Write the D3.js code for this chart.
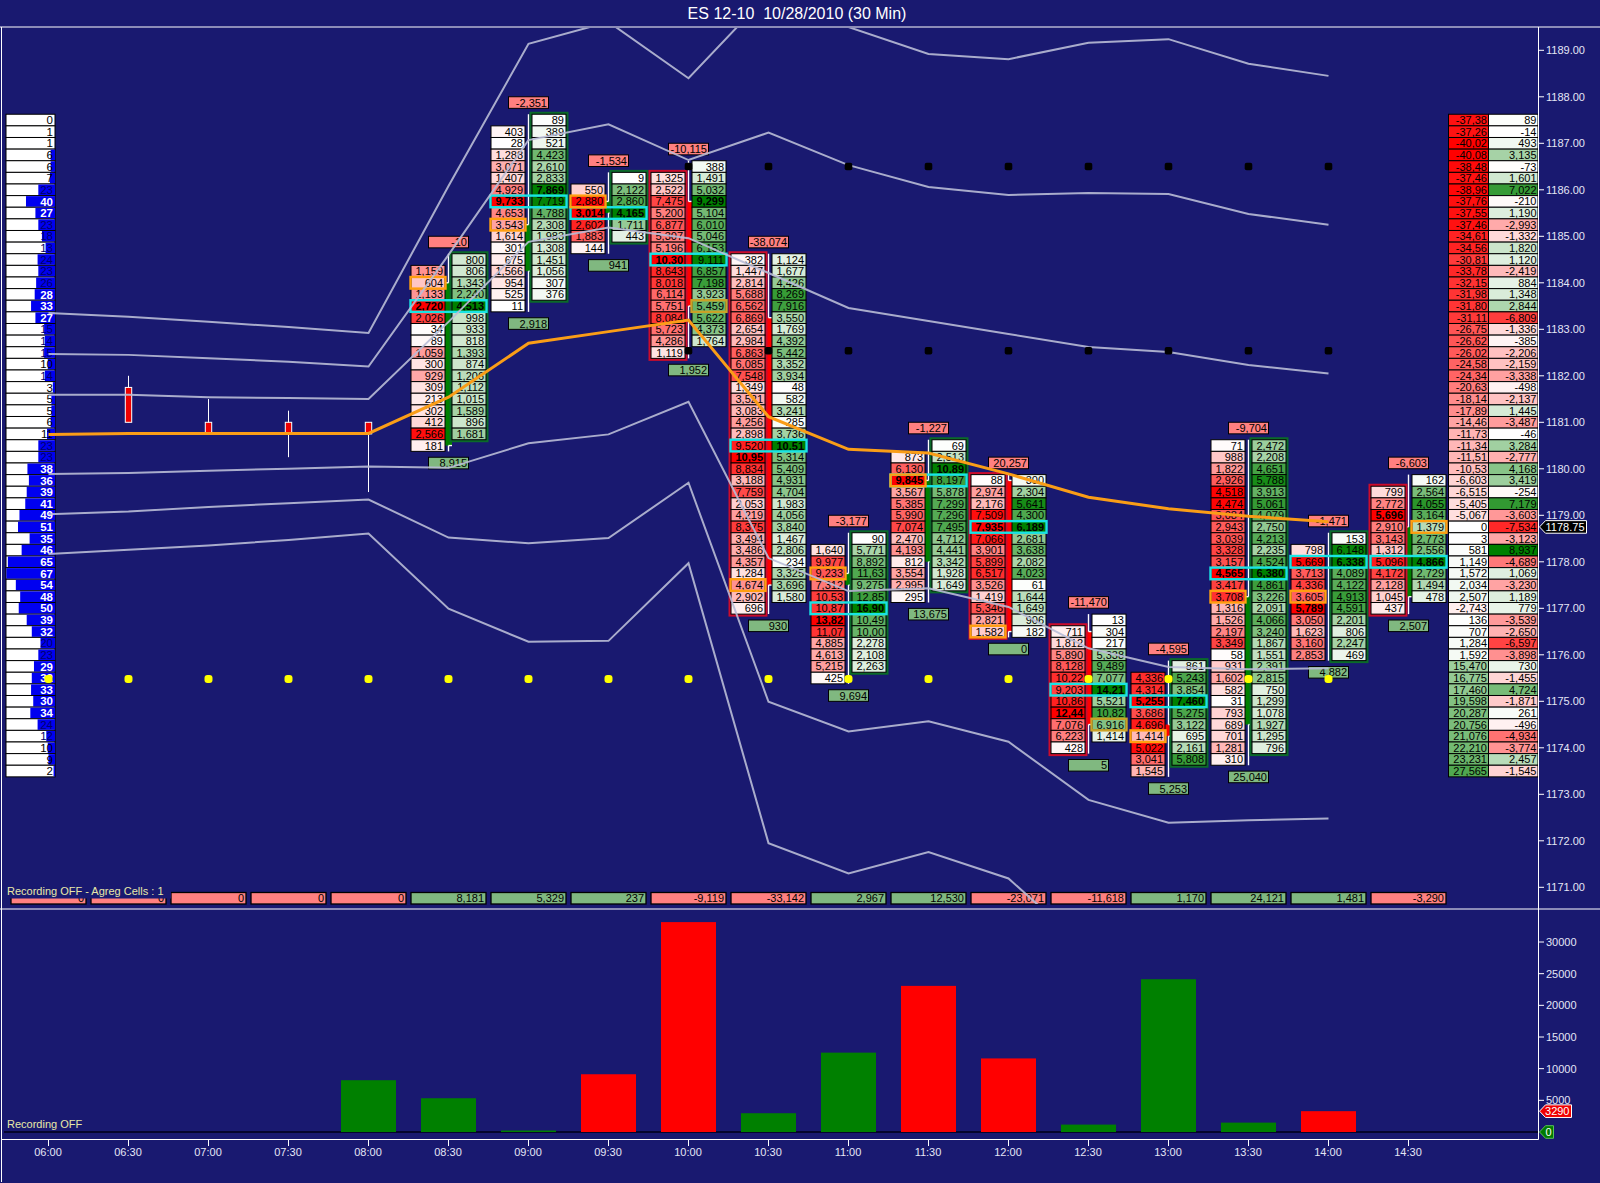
<!DOCTYPE html>
<html><head><meta charset="utf-8">
<style>html,body{margin:0;padding:0;background:#191970}svg{display:block}text{font-family:"Liberation Sans",Arial,sans-serif}</style>
<script src="https://cdnjs.cloudflare.com/ajax/libs/d3/7.8.5/d3.min.js"></script>
</head><body><svg id="c" width="1600" height="1183"></svg>
<script>
const title = "ES 12-10  10/28/2010 (30 Min)";
const timeLabels = ["06:00","06:30","07:00","07:30","08:00","08:30","09:00","09:30","10:00","10:30","11:00","11:30","12:00","12:30","13:00","13:30","14:00","14:30"];
const priceTicks = [1171,1172,1173,1174,1175,1176,1177,1178,1179,1180,1181,1182,1183,1184,1185,1186,1187,1188,1189];
const deltaTicks = [5000,10000,15000,20000,25000,30000];
const summaryDelta = [0,0,0,0,0,8181,5329,237,-9119,-33142,2967,12530,-23071,-11618,1170,24121,1481,-3290];

const profileTop = 1187.5;
const volumeProfile = [0,1,1,6,6,7,23,40,27,23,18,13,24,23,26,28,33,27,15,14,15,10,14,3,5,5,6,11,23,23,38,36,39,41,49,51,35,46,65,67,54,48,50,39,32,20,23,29,32,33,30,34,24,12,10,9,2];
const cumDelta = ["-37,38","-37,26","-40,02","-40,08","-38,48","-37,46","-38,96","-37,76","-37,55","-37,46","-34,61","-34,56","-30,81","-33,78","-32,15","-31,98","-31,80","-31,11","-26,75","-26,62","-26,02","-24,58","-24,34","-20,63","-18,14","-17,89","-14,46","-11,73","-11,34","-11,51","-10,53","-6,603","-6,515","-5,405","-5,067","0","3","581","1,149","1,572","2,034","2,507","-2,743","136","707","1,284","1,592","15,470","16,775","17,460","19,598","20,287","20,756","21,076","22,210","23,231","27,565"];
const priceDelta = ["89","-14","493","3,135","-73","1,601","7,022","-210","1,190","-2,993","-1,332","1,820","1,120","-2,419","884","1,348","2,844","-6,809","-1,336","-385","-2,206","-2,159","-3,338","-498","-2,137","1,445","-3,487","-46","3,284","-2,777","4,168","3,419","-254","7,179","-3,603","-7,534","-3,123","8,937","-4,689","1,069","-3,230","1,189","779","-3,539","-2,650","-6,597","-3,898","730","-1,455","4,724","-1,871","261","-496","-4,934","-3,774","2,457","-1,545"];

const vwap = [1180.74,1180.76,1180.76,1180.76,1180.76,1181.54,1182.70,1182.95,1183.20,1181.12,1180.42,1180.34,1179.89,1179.39,1179.14,1178.98,1178.86];
const bandU3 = [1183.35,1183.27,1183.16,1183.05,1182.92,1186.08,1189.14,1189.61,1188.40,1190.21,1189.50,1188.92,1188.81,1189.16,1189.24,1188.71,1188.45];
const bandU2 = [1182.47,1182.45,1182.38,1182.30,1182.20,1184.60,1187.07,1187.41,1186.64,1187.23,1186.53,1186.06,1185.89,1185.93,1185.91,1185.48,1185.25];
const bandU1 = [1181.59,1181.59,1181.54,1181.52,1181.50,1183.16,1184.88,1185.19,1184.96,1184.21,1183.46,1183.18,1182.90,1182.62,1182.51,1182.23,1182.05];
const bandL1 = [1179.89,1179.91,1179.96,1180.00,1180.05,1180.02,1180.55,1180.74,1181.44,1178.08,1177.37,1177.43,1177.03,1176.14,1175.74,1175.69,1175.71];
const bandL2 = [1179.02,1179.08,1179.18,1179.26,1179.34,1178.52,1178.40,1178.51,1179.70,1174.99,1174.35,1174.57,1174.13,1172.88,1172.39,1172.44,1172.48];
const bandL3 = [1178.17,1178.26,1178.35,1178.47,1178.61,1176.99,1176.28,1176.30,1177.97,1171.95,1171.30,1171.76,1171.19,1169.65];

const yellowLevel = 1175.48, yellowBars = d3.range(0,17);
const blackLevels = [1186.5,1182.54], blackBars = d3.range(8,17);

const smallBars = [1,2,3,4];
const smallOpen = [1181,1180.75,1180.75,1180.75];
const smallClose = [1181.75,1181,1181,1181];
const smallHigh = [1182,1181.5,1181.25,1181];
const smallLow = [1181,1180.75,1180.25,1179.5];

const fpBars = [5,6,7,8,9,10,11,12,13,14,15,16,17];
const bidTop = [1184.25,1187.25,1186,1186.25,1184.5,1178.25,1180.25,1179.75,1176.5,1175.5,1180.5,1178.25,1179.5];
const askTop = [1184.5,1187.5,1186.25,1186.5,1184.5,1178.5,1180.5,1179.75,1176.75,1175.75,1180.5,1178.5,1179.75];
const bids = [
["1,159","604","1,133","2,720","2,026","34","89","1,059","300","929","309","213","302","412","2,566","181"],
["403","28","1,288","3,071","1,407","4,929","9,733","4,653","3,543","1,614","301","675","1,566","954","525","11"],
["550","2,880","3,014","2,602","1,883","144"],
["1,325","2,522","7,475","5,200","6,877","5,307","5,196","10,30","8,643","8,018","6,114","5,751","8,084","5,723","4,286","1,119"],
["382","1,447","2,814","5,688","6,562","6,869","2,654","2,984","6,863","6,085","7,548","1,349","3,521","3,083","4,256","2,898","9,520","10,95","8,834","3,188","7,759","2,053","4,219","8,375","3,494","3,486","4,357","1,284","4,674","2,902","696"],
["1,640","9,977","9,233","7,312","10,53","10,87","13,82","11,07","4,885","4,613","5,215","425"],
["873","6,130","9,845","3,567","5,385","5,990","7,074","2,470","4,193","812","3,554","2,995","295"],
["88","2,974","2,176","7,509","7,935","7,066","3,901","5,899","6,517","3,526","1,419","5,346","2,821","1,582"],
["711","1,812","5,890","8,128","10,22","9,203","10,86","12,44","7,076","6,223","428"],
["4,336","4,314","5,255","3,686","4,696","1,414","5,022","3,041","1,545"],
["71","988","1,822","2,926","4,518","4,474","3,084","2,943","3,039","3,328","3,157","4,565","3,417","3,708","1,316","1,526","2,197","3,349","58","931","1,602","582","31","793","689","701","1,281","310"],
["798","5,669","3,713","4,336","3,605","5,789","3,050","1,623","3,160","2,853"],
["799","2,772","5,696","2,910","3,143","1,312","5,096","4,172","2,128","1,045","437"]];
const asks = [
["800","806","1,343","2,240","4,513","998","933","818","1,393","874","1,206","1,112","1,015","1,589","896","1,681"],
["89","389","521","4,423","2,610","2,833","7,869","7,719","4,788","2,308","1,983","1,308","1,451","1,056","307","376"],
["9","2,122","2,860","4,165","1,711","443"],
["388","1,491","5,032","9,299","5,104","6,010","5,046","6,153","9,111","6,857","7,198","3,923","5,459","5,622","4,373","1,764"],
["1,124","1,677","4,426","8,269","7,916","3,550","1,769","4,392","5,442","3,352","3,934","48","582","3,241","285","3,736","10,51","5,314","5,409","4,931","4,704","1,983","4,056","3,840","1,467","2,806","234","3,325","3,696","1,580"],
["90","5,771","8,892","11,63","9,275","12,85","16,90","10,49","10,00","2,278","2,108","2,263"],
["69","2,513","10,89","8,197","5,878","7,299","7,296","7,495","4,712","4,441","3,342","1,928","1,649"],
["300","2,304","5,641","4,300","6,189","2,681","3,638","2,082","4,023","61","1,644","1,649","906","182"],
["13","304","217","5,338","9,489","7,077","14,21","5,521","10,82","6,916","1,414"],
["861","5,243","3,854","7,460","5,275","3,122","695","2,161","5,808"],
["2,472","2,208","4,651","5,788","3,913","5,061","4,079","2,750","4,213","2,235","4,524","6,380","4,861","3,226","2,091","4,066","3,240","1,867","1,551","2,391","2,815","750","1,299","1,078","1,927","1,295","796"],
["153","6,148","6,338","4,089","4,122","4,913","4,591","2,201","806","2,247","469"],
["162","2,564","4,055","3,164","1,379","2,773","2,556","4,866","2,729","1,494","478"]];
const fpOpen  = [1180.5,1184.25,1185.5,1185.75,1183.25,1177.5,1178,1179.75,1176.5,1174.5,1174.5,1177.25,1177.25];
const fpClose = [1184,1185.25,1185.75,1183.5,1177.5,1177.75,1179.75,1176.5,1174.5,1174.25,1177.25,1177.25,1178.75];
const fpHigh  = [1184.5,1187.5,1186.25,1186.5,1184.5,1178.5,1180.5,1179.75,1176.75,1175.75,1180.5,1178.5,1179.75];
const fpLow   = [1180.5,1183.5,1184.75,1182.5,1177,1175.5,1177.25,1176.5,1174,1173.5,1173.75,1176,1177];
const boxSide = ["a","a","a","b","b","a","a","b","b","a","a","a","b"];
const pocRow  = [3,6,2,7,16,5,2,4,5,2,11,1,6];
const markRow = [1,8,1,12,28,2,2,13,9,5,13,4,4];
const markSide= ["b","b","b","a","b","b","b","b","a","b","b","b","a"];
const topDelta = ["-10","-2,351","-1,534","-10,115","-38,074","-3,177","-1,227","20,257","-11,470","-4,595","-9,704","-1,471","-6,603"];
const bottomDelta = ["8,915","2,918","941","1,952","930","9,694","13,675","0","5","5,253","25,040","4,882","2,507"];

const svg = d3.select("#c");
const navy="#191970", RED="#ff8080", GRN="#80b880";
const x = d3.scaleLinear().domain([0,17]).range([48.5,1408.5]);
const y = d3.scaleLinear().domain([1187,1174]).range([143.3,747.8]);
const yD = d3.scaleLinear().domain([0,30000]).range([1132,942]);
const rowH = Math.abs(y(0.25)-y(0));
const num = s => { const neg=s[0]==="-"; const t=s.replace("-",""); const p=t.split(",");
  let v = p.length>1 ? +p[0]*1000 + +p[1].padEnd(3,"0") : +t; return neg?-v:v; };
const whiteRed = d3.scaleLinear().domain([0,1]).range(["#ffffff","#ff0000"]).clamp(true);
const whiteGrn = d3.scaleLinear().domain([0,1]).range(["#ffffff","#008000"]).clamp(true);
const txt = (g,xx,yy,s,o={}) => g.append("text").attr("x",xx).attr("y",yy).attr("dy",".36em")
  .attr("text-anchor",o.a||"end").attr("font-size",o.fs||11).attr("font-weight",o.b?"bold":"normal")
  .attr("fill",o.f||"#000").text(s);

svg.append("rect").attr("width",1600).attr("height",1183).attr("fill",navy);
svg.append("text").attr("x",797).attr("y",13).attr("dy",".36em").attr("text-anchor","middle").attr("font-size",16).attr("fill","#fff").style("white-space","pre").text(title);

// Left volume profile
const gP = svg.append("g");
const blueW = d3.scaleLinear().domain([0,67]).range([0,48.6]);
volumeProfile.forEach((v,k)=>{
  const yy=y(profileTop-k*0.25);
  gP.append("rect").attr("x",6).attr("y",yy-rowH/2).attr("width",49).attr("height",rowH).attr("fill","#fff").attr("stroke","#000");
  if(v>1) gP.append("rect").attr("x",55-blueW(v)).attr("y",yy-rowH/2+.5).attr("width",blueW(v)).attr("height",rowH-1).attr("fill","#0000f0");
  const w=v>=27;
  txt(gP,53,yy,v,{f:w?"#fff":(v>=12?"#00006a":"#000"),b:w,fs:11.5});
});
// Right cumulative columns
const gR = svg.append("g");
const maxC = d3.max(cumDelta,s=>Math.abs(num(s))), maxD=d3.max(priceDelta,s=>Math.abs(num(s)));
const signCol=(v,m)=> v<0?whiteRed(-v/m):whiteGrn(v/m);
cumDelta.forEach((s,k)=>{
  const yy=y(profileTop-k*0.25);
  gR.append("rect").attr("x",1448.5).attr("y",yy-rowH/2).attr("width",40).attr("height",rowH).attr("fill",signCol(num(s),maxC)).attr("stroke","#000");
  txt(gR,1487,yy,s);
  const d=priceDelta[k];
  gR.append("rect").attr("x",1488.5).attr("y",yy-rowH/2).attr("width",49.5).attr("height",rowH).attr("fill",signCol(num(d),maxD)).attr("stroke","#000");
  txt(gR,1536.5,yy,d);
});
// Small candles
const gF = svg.append("g");
smallBars.forEach((b,k)=>{
  const xx=x(b);
  gF.append("line").attr("x1",xx).attr("x2",xx).attr("y1",y(smallHigh[k])).attr("y2",y(smallLow[k])).attr("stroke","#fff");
  gF.append("rect").attr("x",xx-3.2).attr("y",y(smallClose[k])).attr("width",6.4).attr("height",y(smallOpen[k])-y(smallClose[k])).attr("fill","#ee0000").attr("stroke","#fff");
});
// Footprint bars
fpBars.forEach((b,k)=>{
  const xx=x(b), L=xx-37.5, R=xx+3.5, W=34;
  const bv=bids[k].map(num), av=asks[k].map(num), mb=d3.max(bv), ma=d3.max(av);
  const up=fpClose[k]>fpOpen[k], doji=fpClose[k]===fpOpen[k], hi=Math.max(fpOpen[k],fpClose[k]), lo=Math.min(fpOpen[k],fpClose[k]);
  const top=y(hi), bot=y(lo);
  const bodyCol = doji?null:(b===14||!up?"#ff0000":"#008000");
  // wick
  gF.append("line").attr("x1",xx).attr("x2",xx).attr("y1",y(fpHigh[k])-rowH/2).attr("y2",y(fpLow[k])+rowH/2).attr("stroke","#fff").attr("stroke-width",1.4);
  if(bodyCol){
    gF.append("rect").attr("x",xx-3.5).attr("y",top).attr("width",7).attr("height",bot-top).attr("fill",bodyCol);
    gF.append("line").attr("x1",up?xx-3.5:xx).attr("x2",up?xx:xx+3.5).attr("y1",top).attr("y2",top).attr("stroke","#fff").attr("stroke-width",1.4);
    gF.append("line").attr("x1",xx).attr("x2",xx+3.5).attr("y1",bot).attr("y2",bot).attr("stroke","#fff").attr("stroke-width",1.4);
  }
  // outer box
  const side=boxSide[k]==="a"?{x:R,t:askTop[k],n:av.length,c:"#0b6a2a"}:{x:L,t:bidTop[k],n:bv.length,c:"#cc0c2c"};
  gF.append("rect").attr("x",side.x-1).attr("y",y(side.t)-rowH/2-1).attr("width",W+2).attr("height",side.n*rowH+2).attr("fill","none").attr("stroke",side.c).attr("stroke-width",3);
  // cells
  bv.forEach((v,j)=>{ const yy=y(bidTop[k]-j*.25);
    gF.append("rect").attr("x",L).attr("y",yy-rowH/2).attr("width",W).attr("height",rowH).attr("fill",whiteRed(v/mb)).attr("stroke","#000");
    txt(gF,L+W-2,yy,bids[k][j],{b:v===mb}); });
  av.forEach((v,j)=>{ const yy=y(askTop[k]-j*.25);
    gF.append("rect").attr("x",R).attr("y",yy-rowH/2).attr("width",W).attr("height",rowH).attr("fill",whiteGrn(v/ma)).attr("stroke","#000");
    txt(gF,R+W-2,yy,asks[k][j],{b:v===ma}); });
  // POC band and imbalance mark
  const py=y(bidTop[k]-pocRow[k]*.25);
  gF.append("rect").attr("x",xx-38).attr("y",py-rowH/2).attr("width",76).attr("height",rowH).attr("fill","none").attr("stroke","#19e4e4").attr("stroke-width",2.4);
  const mTop=markSide[k]==="a"?askTop[k]:bidTop[k], my=y(mTop-markRow[k]*.25), mx=markSide[k]==="a"?R:L;
  gF.append("rect").attr("x",mx-.5).attr("y",my-rowH/2).attr("width",W+1).attr("height",rowH).attr("fill","none").attr("stroke",(b===8||b===13)?"#c9a227":"#ff9f10").attr("stroke-width",2.4);
  // delta labels
  [[topDelta[k],y(fpHigh[k])-17.5,RED],[bottomDelta[k],y(fpLow[k])+17.5,GRN]].forEach(([s,ly,c])=>{
    gF.append("rect").attr("x",xx-20).attr("y",ly-5.8).attr("width",40).attr("height",11.6).attr("fill",c).attr("stroke","#000");
    txt(gF,xx+18.5,ly,s);
  });
});
// Summary row
const gS = svg.append("g");
const commas = d3.format(",");
summaryDelta.forEach((v,i)=>{
  gS.append("rect").attr("x",x(i)-37.5).attr("y",892.5).attr("width",75).attr("height",11.5).attr("fill",v<0||i<5?RED:GRN).attr("stroke","#000").attr("stroke-width",1.3);
  txt(gS,x(i)+35.5,898.5,commas(v).replace("\u2212","-"));
});
gS.append("rect").attr("x",3).attr("y",886).attr("width",168).attr("height",12.5).attr("fill",navy);
txt(gS,7,891.5,"Recording OFF - Agreg Cells : 1",{a:"start",f:"#e8e8a8"});

// Bands and VWAP
const clip=svg.append("clipPath").attr("id","plot").append("rect").attr("x",2).attr("y",28).attr("width",1535).attr("height",876);
const lineG=svg.append("g").attr("clip-path","url(#plot)");
const ln=d3.line().x((d,i)=>x(i)).y(d=>y(d));
[bandU3,bandU2,bandU1,bandL1,bandL2,bandL3].forEach(b=>lineG.append("path").attr("d",ln(b)).attr("fill","none").attr("stroke","#b9bdd6").attr("stroke-width",2).attr("opacity",.9));
lineG.append("path").attr("d",ln(vwap)).attr("fill","none").attr("stroke","#fa9d17").attr("stroke-width",3);
// Level markers
yellowBars.forEach(i=>lineG.append("rect").attr("x",x(i)-4).attr("y",y(yellowLevel)-4).attr("width",8).attr("height",8).attr("rx",3).attr("fill","#ffff00"));
blackLevels.forEach(l=>blackBars.forEach(i=>lineG.append("rect").attr("x",x(i)-3.8).attr("y",y(l)-3.8).attr("width",7.6).attr("height",7.6).attr("rx",2).attr("fill","#000")));

// Lower panel bars (values sit one slot left of the summary row)
const gB=svg.append("g");
gB.append("rect").attr("x",4).attr("y",1131).attr("width",1534).attr("height",2).attr("fill","#05052e");
summaryDelta.forEach((v,i)=>{ if(i<5||v===0) return;
  gB.append("rect").attr("x",x(i-1)-27.5).attr("width",55).attr("y",yD(Math.abs(v))).attr("height",yD(0)-yD(Math.abs(v))).attr("fill",v<0?"#ff0000":"#008000");
});
txt(gB,7,1124,"Recording OFF",{a:"start",f:"#e8e8a8"});

// Frames and axes
const W="#ffffff", fr=svg.append("g");
[[0,27,1600,27],[0,909,1600,909],[1.5,27,1.5,1182],[1538.5,27,1538.5,1139.5],[2,1139.5,1538.5,1139.5]].forEach(a=>fr.append("line").attr("x1",a[0]).attr("y1",a[1]).attr("x2",a[2]).attr("y2",a[3]).attr("stroke",W));
const LAB="#e4e6f6";
priceTicks.forEach(p=>{
  fr.append("line").attr("x1",1538).attr("x2",1544).attr("y1",y(p)).attr("y2",y(p)).attr("stroke",W);
  txt(fr,1546,y(p),d3.format(".2f")(p),{a:"start",f:LAB});
});
deltaTicks.forEach(v=>{
  fr.append("line").attr("x1",1538).attr("x2",1544).attr("y1",yD(v)).attr("y2",yD(v)).attr("stroke",W);
  txt(fr,1546,yD(v),v,{a:"start",f:LAB});
});
timeLabels.forEach((t,i)=>{
  fr.append("line").attr("x1",x(i)).attr("x2",x(i)).attr("y1",1139.5).attr("y2",1146).attr("stroke",W);
  txt(fr,x(i)-.5,1152.5,t,{a:"middle",f:LAB});
});
// Price tags
const tag=(yy,wd,s,fill,stroke,b)=>{
  const x0=1539.5,x1=x0+wd,h=6.3;
  fr.append("path").attr("d",`M${x0},${yy}L${x0+6},${yy-h}H${x1}V${yy+h}H${x0+6}Z`).attr("fill",fill).attr("stroke",stroke);
  txt(fr,x1-2,yy,s,{f:"#fff",b});
};
tag(y(1178.75),47,"1178.75","#000","#fff");
tag(yD(3290),32,"3290","#f00000","#fff");
tag(yD(0),14,"0","#007a00","#58c058");
</script></body></html>
